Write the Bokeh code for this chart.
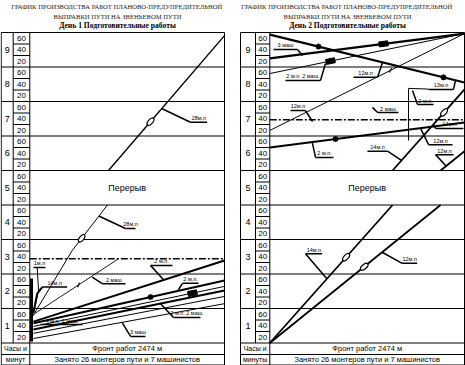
import math
import numpy as np
from bokeh.plotting import figure
from bokeh.layouts import row
from bokeh.models import Range1d
from bokeh.core.properties import value
from bokeh.embed import file_html
from bokeh.resources import INLINE

# ---------------- data ----------------
FRONT_M = 2474                      # front of works, metres
HOURS = [1, 2, 3, 4, 5, 6, 7, 8, 9]
MINUTES = [20, 40, 60]
BREAK_HOUR = 5                      # "Перерыв" band (t = 4..5)
TITLE1 = "ГРАФИК ПРОИЗВОДСТВА  РАБОТ ПЛАНОВО-ПРЕДУПРЕДИТЕЛЬНОЙ"
TITLE2 = "ВЫПРАВКИ ПУТИ НА ЗВЕНЬЕВОМ ПУТИ"
DAY_TITLES = ["День 1 Подготовительные работы", "День 2 Подготовительные работы"]
BREAK_TEXT = "Перерыв"
FRONT_TEXT = "Фронт работ 2474 м"
CREW_TEXT = "Занято 26 монтеров пути и 7 машинистов"
HEAD_TEXT = [["Часы и", "минут"], ["Часы и", "минуты"]]

# Day 1 progress lines (metres along the front, hours from start)
d1_w28a_m = [30, 539, 987];   d1_w28a_h = [0.75, 2.68, 4.00]
d1_w28b_m = [1000, 2474];     d1_w28b_h = [5.00, 8.91]
d1_m2_m = [47, 1127];         d1_m2_h = [0.83, 2.44]
d1_f1_m = [47, 2474];         d1_f1_h = [0.62, 2.39]
d1_f2_m = [47, 2474];         d1_f2_h = [0.57, 1.81]
d1_f3_m = [47, 2474];         d1_f3_h = [0.48, 1.64]
d1_f4_m = [47, 2474];         d1_f4_h = [0.39, 1.52]
d1_f5_m = [47, 2474];         d1_f5_h = [0.28, 1.35]
d1_f6_m = [47, 2474];         d1_f6_h = [0.13, 1.14]
d1_wait_m = [22, 22];         d1_wait_h = [0.04, 1.87]
d1_m1_m = [47, 111, 94];      d1_m1_h = [0.86, 1.52, 2.19]
d1_m14_m = [47, 94, 158];     d1_m14_h = [0.89, 1.43, 1.62]
d1_window_h = 2.44

# Day 2 progress lines
d2_w14a_m = [0, 1560];        d2_w14a_h = [0.0, 4.0]
d2_w12a_m = [0, 2170];        d2_w12a_h = [0.0, 4.0]
d2_w14b_m = [1560, 2474];     d2_w14b_h = [5.0, 7.35]
d2_w12b_m = [2170, 2474];     d2_w12b_h = [5.0, 5.56]
d2_r1_m = [0, 2474];          d2_r1_h = [8.94, 7.55]
d2_r2_m = [0, 2474];          d2_r2_h = [8.25, 8.97]
d2_r3_m = [0, 2474];          d2_r3_h = [7.81, 8.97]
d2_r4_m = [0, 2474];          d2_r4_h = [6.16, 8.97]
d2_r6_m = [0, 2474];          d2_r6_h = [5.67, 6.39]
d2_stop_m = [1763, 1763, 2017]; d2_stop_h = [5.87, 7.38, 7.36]
d2_window_h = 6.47

# Annotations (label, leader anchor on a line, elbow, end of underline)
d1_ann_text = ["28м.п", "28м.п", "2 маш", "2 м.п.", "2 м.п.", "2 м.п. 2 маш.", "3 маш",
               "4 м.п. 2 маш", "14м.п", "1м.п"]
d1_ann_am = [1682, 877, 793, 1699, 1877, 1661, 1174, 136, 158, 47]
d1_ann_ah = [6.79, 3.68, 1.91, 1.83, 1.50, 1.14, 0.59, 0.536, 1.62, 2.19]
d1_ann_em = [2042, 1216, 920, 1534, 1940, 1826, 1280, 136, 158, 47]
d1_ann_eh = [6.40, 3.32, 1.72, 2.25, 1.73, 0.74, 0.19, 0.536, 1.62, 2.19]
d1_ann_um = [2254, 1343, 1216, 1813, 2144, 2169, 1470, 670, 475, 199]

d2_ann_text = ["14м.п", "12м.п", "14м.п", "14м.п", "12м.п", "12м.п", "2 м.п.", "2 маш",
               "12м.п", "3 маш", "2 м.п. 2 маш.", "12м.п", "13м.п", "2 м.п."]
d2_ann_am = [725, 1427, 2079, 1673, 1915, 2240, 539, 1305, 543, 416, 708, 1432, 2360, 1813]
d2_ann_ah = [1.86, 2.63, 6.33, 5.29, 6.23, 5.13, 5.82, 6.83, 6.42, 8.33, 8.10, 8.13, 7.61, 7.32]
d2_ann_em = [454, 1682, 2106, 1496, 2017, 2106, 581, 1369, 452, 352, 644, 1369, 2334, 1877]
d2_ann_eh = [2.59, 2.31, 6.22, 5.56, 5.75, 5.46, 5.38, 6.68, 6.74, 8.51, 7.61, 7.70, 7.35, 6.91]
d2_ann_um = [666, 1873, 2461, 1241, 2322, 2334, 809, 1635, 263, 47, 199, 1064, 2017, 2080]

# ---------------- layout (pixels) ----------------
FIG_H = 365
L_FIG_W, R_FIG_W = 236, 229
CHART_W = 194.7
TOP_Y, ZERO_Y = 32.0, 342.5
PX_H = (ZERO_Y - TOP_Y) / len(HOURS)
ROW2_Y, BOTTOM_Y = 354.0, 364.5
M_PER_PX = FRONT_M / CHART_W

SANS = value("Liberation Sans")
SERIF = value("Liberation Serif")


def h_of_y(y):
    return (ZERO_Y - y) / PX_H


def on_line(ms, hs, m):
    h = float(np.interp(m, ms, hs))
    i = max(0, min(len(ms) - 2, int(np.searchsorted(ms, m)) - 1))
    dx = (ms[i + 1] - ms[i]) / M_PER_PX
    dy = (hs[i + 1] - hs[i]) * PX_H
    return h, math.atan2(dy, dx)


def make_panel(fig_w, chart_x, hour_x, min_x, title_x, day_idx, lines, window_h,
               ann, ellipses, stars, blocks, dots):
    xr = Range1d(-chart_x * M_PER_PX, (fig_w - chart_x) * M_PER_PX)
    yr = Range1d(h_of_y(FIG_H), h_of_y(0))
    p = figure(width=fig_w, height=FIG_H, x_range=xr, y_range=yr,
               output_backend="svg", toolbar_location=None, min_border=0,
               x_axis_location=None, y_axis_location=None,
               outline_line_color=None, background_fill_color="white",
               border_fill_color="white")
    p.grid.visible = False

    hx = (hour_x - chart_x) * M_PER_PX
    mx = (min_x - chart_x) * M_PER_PX
    nh = len(HOURS)
    t_row2, t_bot = h_of_y(ROW2_Y), h_of_y(BOTTOM_Y)

    # table frame
    ts = list(range(nh + 1))
    p.segment(x0=[hx] * len(ts), y0=ts, x1=[FRONT_M] * len(ts), y1=ts, line_color="black", line_width=1)
    sub = [k + f for k in range(nh) for f in (1 / 3, 2 / 3)]
    p.segment(x0=[mx] * len(sub), y0=sub, x1=[0] * len(sub), y1=sub, line_color="black", line_width=1)
    p.segment(x0=[hx, hx], y0=[t_row2, t_bot], x1=[FRONT_M, FRONT_M], y1=[t_row2, t_bot],
              line_color="black", line_width=1)
    p.segment(x0=[hx, 0, FRONT_M, mx], y0=[t_bot, t_bot, t_bot, 0],
              x1=[hx, 0, FRONT_M, mx], y1=[nh, nh, nh, nh], line_color="black", line_width=1)

    # hour and minute labels
    p.text(x=[(hx + mx) / 2] * nh, y=[h - 0.5 for h in HOURS], text=[str(h) for h in HOURS],
           text_font=SANS, text_font_size="9px", text_align="center", text_baseline="middle")
    mins_y = [h - 1 + (mm / 60 - 1 / 6) for h in HOURS for mm in MINUTES]
    mins_t = [str(mm) for h in HOURS for mm in MINUTES]
    p.text(x=[mx / 2] * len(mins_y), y=mins_y, text=mins_t, text_font=SANS,
           text_font_size="8px", text_align="center", text_baseline="middle")

    # bottom rows
    p.text(x=[hx / 2, hx / 2], y=[t_row2 / 2, (t_row2 + t_bot) / 2], text=HEAD_TEXT[day_idx],
           text_font=SANS, text_font_size="7px", text_align="center", text_baseline="middle")
    p.text(x=[FRONT_M / 2, FRONT_M / 2], y=[t_row2 / 2, (t_row2 + t_bot) / 2],
           text=[FRONT_TEXT, CREW_TEXT], text_font=SANS, text_font_size="7.5px",
           text_align="center", text_baseline="middle")
    p.text(x=[FRONT_M / 2], y=[BREAK_HOUR - 0.5], text=[BREAK_TEXT], text_font=SANS,
           text_font_size="9px", text_align="center", text_baseline="middle")

    # titles
    tm = (title_x - chart_x) * M_PER_PX
    p.text(x=[tm, tm], y=[h_of_y(6), h_of_y(15.5)], text=[TITLE1, TITLE2], text_font=SERIF,
           text_font_size="6.6px", text_align="center", text_baseline="middle", text_color="#222222")
    p.text(x=[tm], y=[h_of_y(25)], text=[DAY_TITLES[day_idx]], text_font=SERIF,
           text_font_size="7.6px", text_font_style="bold", text_align="center",
           text_baseline="middle")

    # window (dash-dot) line
    p.line(x=[0, FRONT_M], y=[window_h, window_h], line_color="black", line_width=1.6,
           line_dash="7 2 2 2")

    # progress lines
    for ms, hs, w in lines:
        p.line(x=ms, y=hs, line_color="black", line_width=w)

    # markers
    for ms, hs, m in ellipses:
        h, a = on_line(ms, hs, m)
        p.ellipse(x=[m], y=[h], width=9, height=4.5, angle=a, width_units="screen",
                  height_units="screen", fill_color="white", line_color="black", line_width=1.2)
    for ms, hs, m in stars:
        h, a = on_line(ms, hs, m)
        p.scatter(x=[m], y=[h], marker="asterisk", size=6, line_color="black", line_width=1.6)
    for ms, hs, m in blocks:
        h, a = on_line(ms, hs, m)
        p.rect(x=[m], y=[h], width=9, height=5, angle=a, width_units="screen",
               height_units="screen", fill_color="black", line_color="black")
    for ms, hs, m in dots:
        h, a = on_line(ms, hs, m)
        p.scatter(x=[m], y=[h], marker="dash", size=5, angle=a + 0.6, line_color="black",
                  line_width=1.2)

    # annotations: leader + underline + label
    txt, am, ah, em, eh, um = ann
    lead = [i for i in range(len(txt)) if (am[i], ah[i]) != (em[i], eh[i])]
    p.segment(x0=[am[i] for i in lead], y0=[ah[i] for i in lead],
              x1=[em[i] for i in lead], y1=[eh[i] for i in lead], line_color="black", line_width=1.5)
    p.segment(x0=em, y0=eh, x1=um, y1=eh, line_color="black", line_width=1.5)
    p.text(x=[(a + b) / 2 for a, b in zip(em, um)], y=eh, text=txt, text_font=SANS,
           text_font_size="5.5px", text_align="center", text_baseline="bottom", y_offset=-1)
    return p


left = make_panel(
    L_FIG_W, 29.3, 0.7, 12.7, 117.0, 0,
    [(d1_w28a_m, d1_w28a_h, 1.0), (d1_w28b_m, d1_w28b_h, 1.4), (d1_m2_m, d1_m2_h, 0.9),
     (d1_f1_m, d1_f1_h, 2.0), (d1_f2_m, d1_f2_h, 2.0), (d1_f3_m, d1_f3_h, 1.0),
     (d1_f4_m, d1_f4_h, 2.0), (d1_f5_m, d1_f5_h, 1.0), (d1_f6_m, d1_f6_h, 1.0),
     (d1_wait_m, d1_wait_h, 3.0), (d1_m1_m, d1_m1_h, 1.0), (d1_m14_m, d1_m14_h, 2.0)],
    d1_window_h,
    (d1_ann_text, d1_ann_am, d1_ann_ah, d1_ann_em, d1_ann_eh, d1_ann_um),
    [(d1_w28b_m, d1_w28b_h, 1534), (d1_w28a_m, d1_w28a_h, 660)],
    [(d1_f2_m, d1_f2_h, 1534)],
    [(d1_f3_m, d1_f3_h, 2067)],
    [(d1_m2_m, d1_m2_h, 619)],
)

right = make_panel(
    R_FIG_W, 33.3, 4.0, 19.0, 111.0, 1,
    [(d2_w14a_m, d2_w14a_h, 1.8), (d2_w12a_m, d2_w12a_h, 1.8), (d2_w14b_m, d2_w14b_h, 1.8),
     (d2_w12b_m, d2_w12b_h, 1.8), (d2_r1_m, d2_r1_h, 2.2), (d2_r2_m, d2_r2_h, 2.2),
     (d2_r3_m, d2_r3_h, 1.0), (d2_r4_m, d2_r4_h, 1.0), (d2_r6_m, d2_r6_h, 2.0),
     (d2_stop_m, d2_stop_h, 1.0)],
    d2_window_h,
    (d2_ann_text, d2_ann_am, d2_ann_ah, d2_ann_em, d2_ann_eh, d2_ann_um),
    [(d2_w14a_m, d2_w14a_h, 970), (d2_w12a_m, d2_w12a_h, 1200), (d2_w14b_m, d2_w14b_h, 2215)],
    [(d2_r1_m, d2_r1_h, 619), (d2_r1_m, d2_r1_h, 2207), (d2_r6_m, d2_r6_h, 835)],
    [(d2_r2_m, d2_r2_h, 1445), (d2_r3_m, d2_r3_h, 771)],
    [(d2_r4_m, d2_r4_h, 1534)],
)

page = row(left, right)
open("out.html", "w").write(file_html(page, INLINE))
